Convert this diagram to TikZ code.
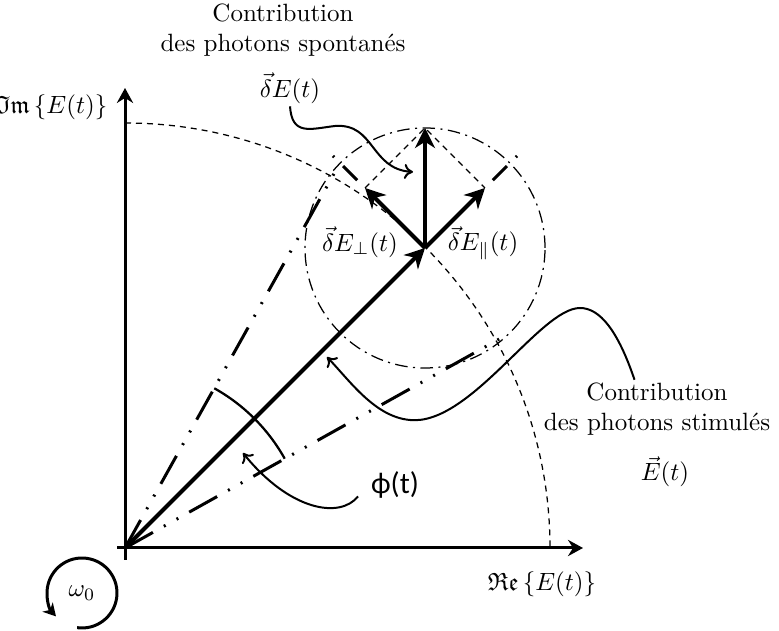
\documentclass[tikz,border=0pt]{standalone}
\usepackage{amsmath,amssymb}
\usepackage{fontspec}
\newfontfamily\phifont{Carlito}
\usetikzlibrary{arrows.meta}

\begin{document}
\begin{tikzpicture}[x=0.4pt,y=0.4pt,
  axis/.style={line width=1.2pt,-{Stealth[length=6pt,width=6.5pt,inset=2pt]}},
  vect/.style={line width=1.6pt,-{Stealth[length=8pt,width=8pt,inset=2.5pt]}},
  cone/.style={line width=1.2pt,dash pattern=on 12.8pt off 5pt on 0.8pt off 5pt on 0.8pt off 5pt},
  thin dash/.style={line width=0.5pt,dash pattern=on 2.4pt off 2pt},
  ring/.style={line width=0.5pt,dash pattern=on 5pt off 2.2pt on 0.8pt off 2.2pt},
  pointer/.style={line width=0.8pt,-{To[length=3.5pt,width=6pt]}},
  lbl/.style={inner sep=1pt}]
\useasboundingbox (0,0) rectangle (779,631);
\coordinate (O) at (125,83);
\coordinate (P) at (425,383);
\coordinate (T) at (425,503);
\coordinate (A) at (365,443);
\coordinate (B) at (485,443);
\coordinate (U) at (340,468);
\coordinate (V) at (510,298);
\coordinate (Aend) at (333,475);
\coordinate (Bend) at (517,475);
\coordinate (tipdE) at (413,459);
\coordinate (tipE) at (327,274);
\coordinate (tipphi) at (243,178);
\draw[thin dash] (125,508) arc (90:0:425);
\draw[ring] (P) circle (120);
\draw[cone] (O) -- (U);
\draw[cone] (O) -- (V);
\draw[cone,dash pattern=on 0pt off 4.4pt on 8pt off 5pt on 0.8pt off 10pt] (A) -- (Aend);
\draw[cone,dash pattern=on 0pt off 4.4pt on 8pt off 5pt on 0.8pt off 10pt] (B) -- (Bend);
\draw[thin dash] (A) -- (T) -- (B);
\draw[axis] (117,83) -- (583,83);
\draw[axis] (125,71) -- (125,543);
\draw[vect] (O) -- (P);
\draw[vect] (P) -- (T);
\draw[vect] (P) -- (A);
\draw[vect] (P) -- (B);
\draw[line width=0.9pt] (O) ++(60.8:183) arc (60.8:29.2:183);
\node[lbl] (im) at (52,524) {$\mathfrak{Im}\,\{E(t)\}$};
\node[lbl] (re) at (542,47) {$\mathfrak{Re}\,\{E(t)\}$};
\node[lbl] (w0) at (82,38) {$\omega_0$};
\draw[line width=1.2pt,-{Stealth[length=5pt,width=5.5pt,inset=1.5pt]}] (w0.center) ++(-98:35)
  arc[start angle=-98,end angle=222,radius=35];
\node[lbl,align=center] (spont) at (283,601) {Contribution\\des photons spontanés};
\node[lbl] (dE) at (290,543) {$\vec{\delta}E(t)$};
\node[lbl] (dEperp) at (360,389) {$\vec{\delta}E_{\perp}(t)$};
\node[lbl] (dEpar) at (483,388) {$\vec{\delta}E_{\parallel}(t)$};
\node[lbl,align=center] (stim) at (657,222) {Contribution\\des photons stimulés};
\node[lbl] (E) at (665,159) {$\vec{E}(t)$};
\node[lbl] (phi) at (395,146) {\phifont\fontsize{12}{14}\selectfont ϕ(t)};
\draw[pointer] (dE.south) .. controls (292,495) and (310,502) .. (335,505)
  .. controls (375,508) and (370,462) .. (tipdE);
\draw[pointer] ([xshift=-9pt]stim.north) .. controls (618,300) and (600,323) .. (580,323)
  .. controls (540,323) and (470,205) .. (410,211)
  .. controls (375,214) and (350,250) .. (tipE);
\draw[pointer] ([xshift=-4pt,yshift=2pt]phi.south west) .. controls (340,112) and (290,120) .. (tipphi);
\end{tikzpicture}
\end{document}
